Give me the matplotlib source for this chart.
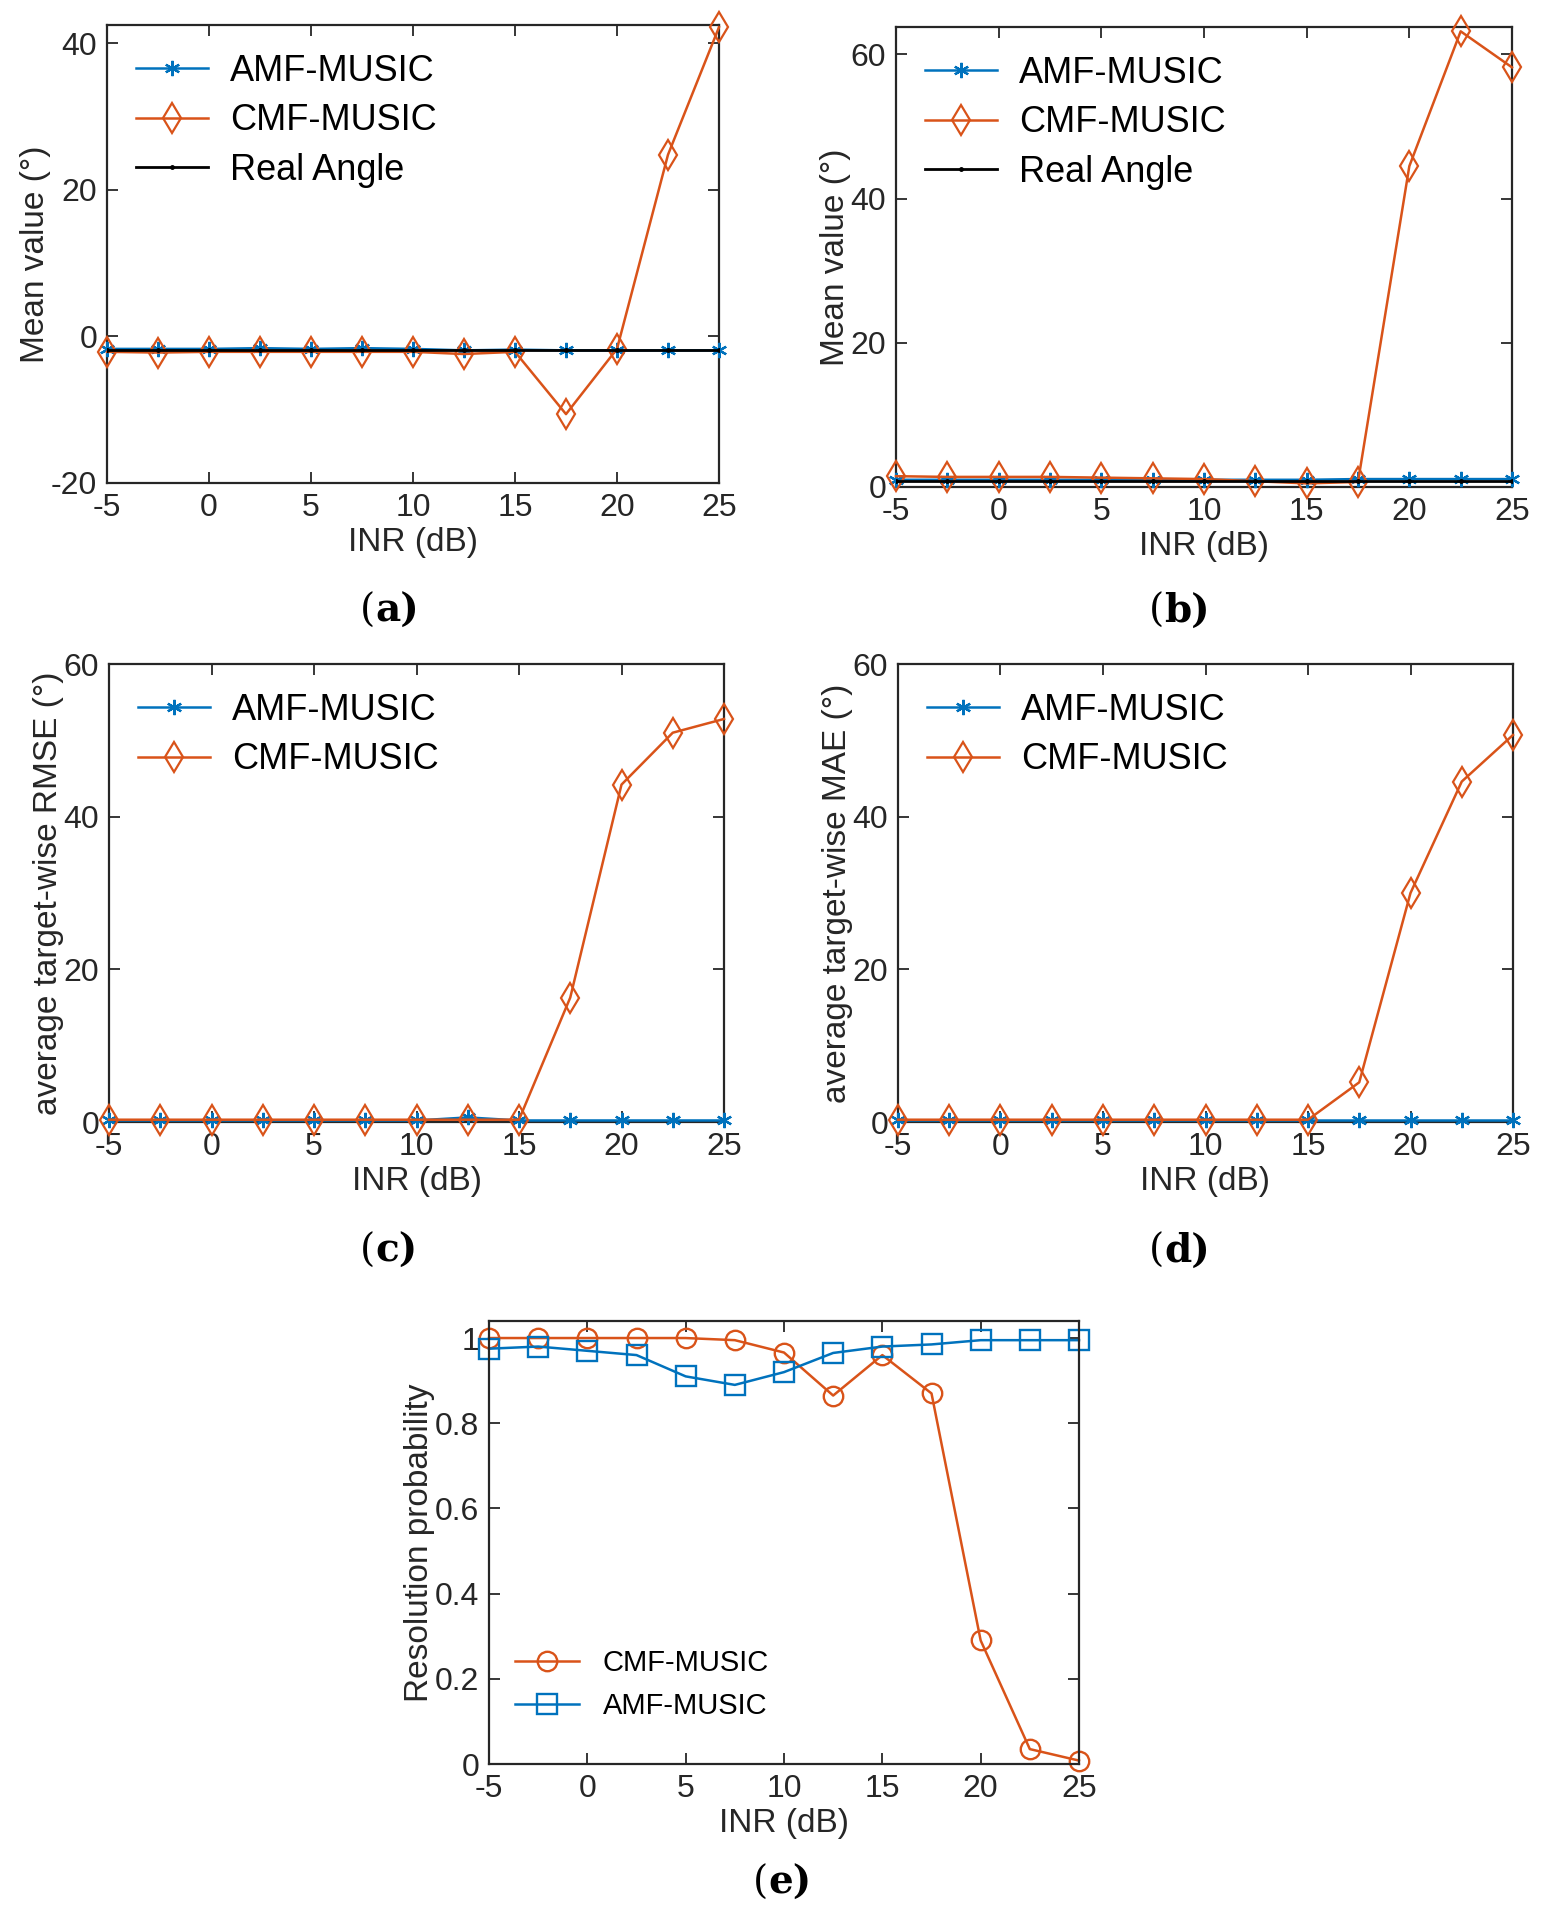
import matplotlib
matplotlib.use("Agg")
import matplotlib.pyplot as plt
import numpy as np

plt.rcParams['font.family'] = ['Liberation Sans', 'DejaVu Sans']
plt.rcParams['axes.unicode_minus'] = False

BLUE = '#0072BD'
ORANGE = '#D95319'

inr = [-5, -2.5, 0, 2.5, 5, 7.5, 10, 12.5, 15, 17.5, 20, 22.5, 25]

# (a) mean value, target 1
a_amf = [-1.7, -1.7, -1.7, -1.6, -1.7, -1.6, -1.7, -1.9, -1.8, -1.9, -1.9, -1.9, -1.9]
a_cmf = [-2.1, -2.2, -2.1, -2.1, -2.1, -2.1, -2.1, -2.4, -2.1, -10.6, -1.7, 24.8, 42.2]
a_real = [-1.9] * 13

# (b) mean value, target 2
b_amf = [1.0, 1.0, 1.0, 1.0, 1.0, 1.0, 1.0, 1.0, 1.0, 1.1, 1.1, 1.1, 1.1]
b_cmf = [1.5, 1.4, 1.4, 1.4, 1.3, 1.2, 1.1, 0.8, 0.5, 0.7, 44.5, 63.2, 58.2]
b_real = [0.8] * 13

# (c) RMSE
c_amf = [0.2, 0.2, 0.2, 0.2, 0.2, 0.2, 0.2, 0.6, 0.2, 0.2, 0.2, 0.2, 0.2]
c_cmf = [0.3, 0.3, 0.3, 0.3, 0.3, 0.3, 0.3, 0.3, 0.3, 16.3, 44.2, 51.0, 52.8]

# (d) MAE
d_amf = [0.2, 0.2, 0.2, 0.2, 0.2, 0.2, 0.2, 0.2, 0.2, 0.2, 0.2, 0.2, 0.2]
d_cmf = [0.3, 0.3, 0.3, 0.3, 0.3, 0.3, 0.3, 0.3, 0.3, 5.2, 30.0, 44.6, 50.7]

# (e) resolution probability
e_cmf = [1.0, 1.0, 1.0, 1.0, 1.0, 0.995, 0.966, 0.865, 0.96, 0.87, 0.29, 0.035, 0.008]
e_amf = [0.975, 0.98, 0.97, 0.96, 0.91, 0.89, 0.92, 0.965, 0.98, 0.985, 0.995, 0.995, 0.995]

W, H = 1544, 1927
fig = plt.figure(figsize=(W / 100, H / 100), dpi=100)

ASTER = (6, 2, 0)


def make_ax(l, r, t, b):
    return fig.add_axes([l / W, 1 - b / H, (r - l) / W, (b - t) / H])


def style(ax, fs=23):
    ax.tick_params(direction='in', top=True, right=True, labelsize=fs, length=8,
                   width=1.3, colors='#262626', pad=7)
    for s in ax.spines.values():
        s.set_linewidth(1.6)
        s.set_color('#262626')
    ax.set_xlim(-5, 25)
    ax.set_xticks(range(-5, 26, 5))
    ax.set_xlabel('INR (dB)', fontsize=24, color='#262626', labelpad=3)


def panel_label(x, y, s):
    fig.text(x / W, 1 - y / H, '(', fontsize=28, ha='right', va='center',
             family='DejaVu Serif')
    fig.text(x / W, 1 - y / H, s, fontsize=28, ha='left', va='center',
             family='DejaVu Serif', fontweight='bold')


def err_panel(ax, amf, cmf, real, ylabel, ylim, yticks):
    ax.plot(inr, amf, '-', marker=ASTER, color=BLUE, lw=1.8, ms=11, mew=1.6,
            label='AMF-MUSIC', clip_on=False, zorder=3)
    ax.plot(inr, cmf, '-d', color=ORANGE, lw=1.8, ms=15, mfc='none', mew=1.6,
            label='CMF-MUSIC', clip_on=False, zorder=4)
    if real is not None:
        ax.plot(inr, real, '-', color='black', marker='.', ms=5, lw=2.0,
                label='Real Angle', zorder=5)
    ax.set_ylim(*ylim)
    ax.set_yticks(yticks)
    ax.set_ylabel(ylabel, fontsize=24, color='#262626', labelpad=0)
    style(ax)
    ax.legend(loc='upper left', frameon=False, fontsize=26, handlelength=2.0,
              borderaxespad=0.4, labelspacing=0.4, handletextpad=0.6)


ax = make_ax(107, 719, 25, 483)
err_panel(ax, a_amf, a_cmf, a_real, 'Mean value (°)', (-20, 42.5), [-20, 0, 20, 40])
ax = make_ax(896, 1512, 27, 487)
err_panel(ax, b_amf, b_cmf, b_real, 'Mean value (°)', (0, 63.8), [0, 20, 40, 60])
ax = make_ax(109, 724, 664, 1122)
err_panel(ax, c_amf, c_cmf, None, 'average target-wise RMSE (°)', (0, 60), [0, 20, 40, 60])
ax = make_ax(898, 1513, 664, 1122)
err_panel(ax, d_amf, d_cmf, None, 'average target-wise MAE (°)', (0, 60), [0, 20, 40, 60])

ax = make_ax(489, 1079, 1321, 1764)
ax.plot(inr, e_cmf, '-o', color=ORANGE, lw=1.8, ms=14, mfc='none', mew=1.7,
        label='CMF-MUSIC', clip_on=False)
ax.plot(inr, e_amf, '-s', color=BLUE, lw=1.8, ms=14, mfc='none', mew=1.7,
        label='AMF-MUSIC', clip_on=False)
ax.set_ylim(0, 1.04)
ax.set_yticks([0, 0.2, 0.4, 0.6, 0.8, 1])
ax.set_yticklabels(['0', '0.2', '0.4', '0.6', '0.8', '1'])
ax.set_ylabel('Resolution probability', fontsize=24, color='#262626', labelpad=0)
style(ax)
ax.legend(loc='lower left', bbox_to_anchor=(0.0, 0.04), frameon=False, fontsize=21,
          handlelength=2.2, labelspacing=0.5)

panel_label(375, 611, 'a)')
panel_label(1164, 611, 'b)')
panel_label(375, 1251, 'c)')
panel_label(1164, 1251, 'd)')
panel_label(768, 1883, 'e)')

fig.savefig('out.png', dpi=100, facecolor='white')
